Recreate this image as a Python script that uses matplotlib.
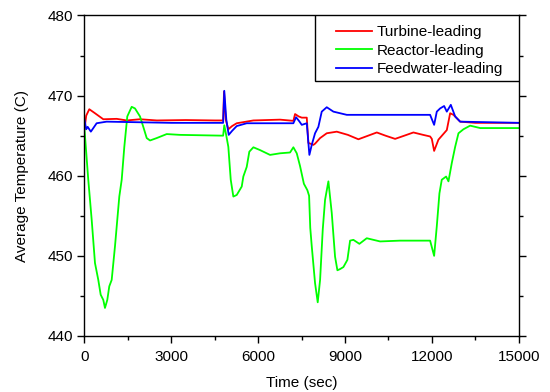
import matplotlib
matplotlib.use("Agg")
import matplotlib.pyplot as plt
from matplotlib.patches import Rectangle
from matplotlib.ticker import MultipleLocator

plt.rcParams['font.family'] = ['Liberation Sans', 'DejaVu Sans']
plt.rcParams['font.size'] = 11

# Turbine-leading
t_turb = [0, 60, 166, 363, 650, 1112, 1458, 1918, 2500, 3500, 4500, 4790, 4821,
          4880, 4970, 5100, 5260, 5835, 6757, 7217, 7275, 7400, 7507, 7680, 7735,
          7908, 7966, 8140, 8370, 8716, 9100, 9463, 9800, 10099, 10400, 10732,
          11050, 11364, 11700, 11941, 12000, 12080, 12228, 12518, 12633, 12748,
          12979, 13500, 15000]
T_turb = [465.8, 467.5, 468.3, 467.8, 467.05, 467.1, 466.9, 467.05, 466.9, 466.95,
          466.9, 466.9, 470.5, 467.0, 465.8, 466.2, 466.55, 466.9, 467.0, 466.85,
          467.7, 467.4, 467.25, 467.25, 464.1, 463.85, 464.0, 464.7, 465.3, 465.5,
          465.1, 464.55, 465.0, 465.4, 465.0, 464.6, 465.0, 465.4, 465.1, 464.9,
          464.6, 463.1, 464.5, 465.7, 467.8, 467.6, 466.75, 466.6, 466.6]

# Reactor-leading
t_reac = [0, 131, 249, 363, 477, 560, 650, 708, 788, 857, 940, 1054, 1203, 1286,
          1376, 1479, 1631, 1745, 1918, 2032, 2150, 2264, 2495, 2841, 3300, 4790,
          4830, 4900, 4970, 5053, 5143, 5260, 5433, 5488, 5605, 5695, 5835, 6066,
          6411, 6757, 7102, 7217, 7334, 7448, 7580, 7700, 7760, 7800, 7852, 7966,
          8058, 8140, 8232, 8312, 8427, 8543, 8657, 8738, 8830, 8945, 9083, 9176,
          9290, 9498, 9752, 10212, 10904, 11941, 12080, 12172, 12263, 12344,
          12494, 12575, 12691, 12806, 12921, 13093, 13324, 13670, 15000]
T_reac = [465.8, 459.5, 454.5, 449.1, 447.0, 445.15, 444.5, 443.5, 444.5, 446.2,
          447.0, 451.2, 457.4, 459.5, 463.6, 467.4, 468.6, 468.4, 467.4, 466.1,
          464.7, 464.4, 464.7, 465.2, 465.1, 465.0, 466.3, 465.0, 463.6, 459.5,
          457.4, 457.6, 458.65, 459.9, 461.1, 463.0, 463.55, 463.2, 462.6, 462.8,
          462.9, 463.55, 462.8, 461.2, 459.0, 458.2, 457.5, 453.5, 451.2, 446.6,
          444.2, 447.0, 453.3, 457.0, 459.3, 455.35, 449.9, 448.2, 448.35, 448.6,
          449.5, 451.9, 452.0, 451.5, 452.2, 451.8, 451.9, 451.9, 450.0, 453.7,
          457.8, 459.5, 459.9, 459.3, 461.6, 463.6, 465.3, 465.8, 466.25, 465.95,
          465.95]

# Feedwater-leading
t_feed = [0, 60, 110, 220, 420, 767, 1500, 3000, 4790, 4830, 4900, 4983, 5100,
          5260, 5605, 7217, 7310, 7420, 7507, 7680, 7770, 7852, 7966, 8081, 8197,
          8370, 8600, 9062, 11941, 12080, 12172, 12287, 12425, 12518, 12656, 12806,
          12979, 15000]
T_feed = [467.0, 465.8, 466.1, 465.5, 466.55, 466.75, 466.7, 466.6, 466.6, 470.6,
          467.0, 465.1, 465.6, 466.2, 466.55, 466.55, 467.3, 466.8, 466.35, 466.55,
          462.6, 463.85, 465.3, 466.1, 468.0, 468.55, 468.0, 467.6, 467.6, 466.35,
          468.0, 468.4, 468.7, 468.0, 468.85, 467.4, 466.75, 466.6]

fig = plt.figure(figsize=(5.5, 3.92), dpi=100)
ax = fig.add_axes([0.1536, 0.1429, 0.7894, 0.8176])

ax.plot(t_turb, T_turb, color='#ff0000', lw=1.3, label='Turbine-leading')
ax.plot(t_reac, T_reac, color='#00ff00', lw=1.3, label='Reactor-leading')
ax.plot(t_feed, T_feed, color='#0000ff', lw=1.3, label='Feedwater-leading')

ax.set_xlim(0, 15000)
ax.set_ylim(440, 480)
ax.xaxis.set_major_locator(MultipleLocator(3000))
ax.xaxis.set_minor_locator(MultipleLocator(1500))
ax.yaxis.set_major_locator(MultipleLocator(10))
ax.yaxis.set_minor_locator(MultipleLocator(5))
ax.tick_params(which='both', direction='out', right=True, top=False, width=1)
ax.tick_params(which='major', length=5)
ax.tick_params(which='minor', length=3)
ax.tick_params(axis='x', which='major', pad=5)
ax.tick_params(axis='y', which='major', pad=3.5)
ax.tick_params(axis='y', which='both', labelright=False)
for s in ax.spines.values():
    s.set_linewidth(1)

ax.set_xlabel('Time (sec)', labelpad=9)
ax.set_ylabel('Average Temperature (C)', labelpad=13)

# legend frame drawn as a box in the upper right corner
box = Rectangle((0.531, 0.7957), 0.469, 0.2043, transform=ax.transAxes,
                facecolor='white', edgecolor='black', lw=1, zorder=3)
ax.add_patch(box)
leg = ax.legend(loc='upper left', bbox_to_anchor=(0.579, 0.970), frameon=False,
                borderpad=0, handlelength=2.35, handletextpad=0.3,
                labelspacing=0.3, borderaxespad=0)
leg.set_zorder(4)

fig.savefig('out.png', dpi=100)
